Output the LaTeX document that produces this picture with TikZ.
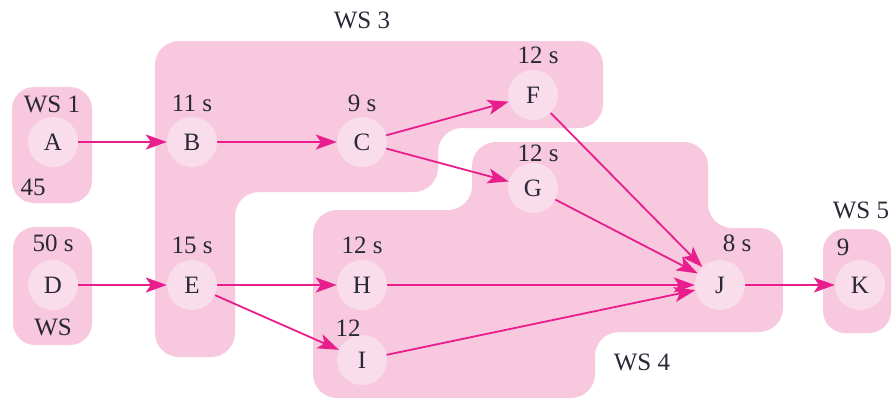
\documentclass[tikz,border=0pt]{standalone}
\usepackage{fontspec}
\setmainfont{Liberation Serif}
\usetikzlibrary{arrows.meta}
\definecolor{wsfill}{RGB}{247,200,222}
\definecolor{taskfill}{RGB}{250,221,235}
\definecolor{flow}{RGB}{232,30,140}
\definecolor{ink}{RGB}{40,40,55}
\begin{document}
\begin{tikzpicture}[x=1pt,y=-1pt,
  region/.style={fill=wsfill,draw=none,rounded corners=24pt},
  task/.style={circle,fill=taskfill,minimum size=50pt,inner sep=0pt,text=ink,font=\fontsize{25}{28}\selectfont},
  lbl/.style={text=ink,inner sep=0pt,font=\fontsize{25}{28}\selectfont},
  link/.style={draw=flow,line width=1.8pt,-{Stealth[length=21pt,width=15pt,inset=5pt]}}]
\useasboundingbox (0,0) rectangle (893,400);

% workstation areas
\fill[region,rounded corners=22pt] (12,87) rectangle (92,203);
\fill[region,rounded corners=22pt] (13,227) rectangle (92,345);
\fill[region] (155,41) -- (603,41) -- (603,128) -- (438,128) -- (438,192)
  -- (235,192) -- (235,357) -- (155,357) -- cycle;
\fill[region] (472,142) -- (708,142) -- (708,228) -- (783,228) -- (783,332)
  -- (595,332) -- (595,398) -- (313,398) -- (313,210) -- (472,210) -- cycle;
\fill[region,rounded corners=22pt] (823,229) rectangle (891,333);

% tasks
\node[task] (A) at (53,142) {A};
\node[task] (B) at (192,142) {B};
\node[task] (C) at (362,142) {C};
\node[task] (F) at (533,95) {F};
\node[task] (G) at (533,188) {G};
\node[task] (D) at (53,285) {D};
\node[task] (E) at (192,285) {E};
\node[task] (H) at (362,285) {H};
\node[task] (I) at (362,360) {I};
\node[task] (J) at (720,285) {J};
\node[task] (K) at (860,285) {K};

% times and station names
\node[lbl] (ws1) at (52,104) {WS 1};
\node[lbl] (t45) at (33,187) {45};
\node[lbl] (tD) at (53,243) {50 s};
\node[lbl] (ws2) at (53,327) {WS};
\node[lbl] (ws3) at (362,20) {WS 3};
\node[lbl] (tB) at (192,103) {11 s};
\node[lbl] (tC) at (362,103) {9 s};
\node[lbl] (tF) at (538,55) {12 s};
\node[lbl] (tG) at (538,153) {12 s};
\node[lbl] (tE) at (192,245) {15 s};
\node[lbl] (tH) at (362,245) {12 s};
\node[lbl] (tI) at (348,328) {12};
\node[lbl] (tJ) at (737,243) {8 s};
\node[lbl] (ws4) at (642,362) {WS 4};
\node[lbl] (ws5) at (861,210) {WS 5};
\node[lbl] (tK) at (843,247) {9};

% precedence links
\draw[link] (A) -- (B);
\draw[link] (B) -- (C);
\draw[link] (C) -- (F);
\draw[link] (C) -- (G);
\draw[link] (F) -- (J);
\draw[link] (G) -- (J);
\draw[link] (D) -- (E);
\draw[link] (E) -- (H);
\draw[link] (E) -- (I);
\draw[link] (H) -- (J);
\draw[link] (I) -- (J);
\draw[link] (J) -- (K);
\end{tikzpicture}
\end{document}
